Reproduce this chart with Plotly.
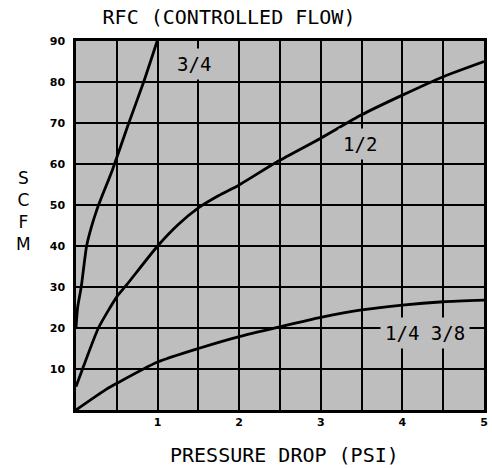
import plotly.graph_objects as go

# Data
x_34 = [0, 0.02, 0.064, 0.13, 0.19, 0.25, 0.3, 0.445, 0.647, 0.829, 0.995]
y_34 = [20, 25, 30, 40, 44.7, 48.5, 51.2, 58.5, 70, 80, 90]

x_12 = [0, 0.08, 0.275, 0.5, 0.62, 1.0, 1.25, 1.5, 1.75, 2.0, 2.47, 3.0, 3.5, 4.0, 4.5, 5.0]
y_12 = [5.7, 10, 20, 27.6, 30.5, 40, 45.2, 49.3, 52.3, 54.9, 60.6, 66.3, 72, 76.8, 81.3, 85]

x_14 = [0, 0.36, 0.5, 1.0, 1.5, 2.0, 2.5, 3.0, 3.5, 4.0, 4.5, 5.0]
y_14 = [0, 4.9, 6.5, 11.7, 15, 17.9, 20.3, 22.6, 24.4, 25.6, 26.4, 26.8]

x_tickvals = [0, 0.5, 1, 1.5, 2, 2.5, 3, 3.5, 4, 4.5, 5]
x_ticktext = ["", "", "1", "", "2", "", "3", "", "4", "", "5"]
y_tickvals = [0, 10, 20, 30, 40, 50, 60, 70, 80, 90]
y_ticktext = ["", "10", "20", "30", "40", "50", "60", "70", "80", "90"]

curve_labels = ["3/4", "1/2", "1/4 3/8"]
label_x = [1.44, 3.48, 4.28]
label_y = [84.4, 64.8, 18.9]

BG = "#bebebe"
TXT_FONT = "DejaVu Sans Mono"

W, H = 492, 468
fig = go.Figure()
for xs, ys in [(x_34, y_34), (x_12, y_12), (x_14, y_14)]:
    fig.add_trace(go.Scatter(
        x=xs, y=ys, mode="lines",
        line=dict(color="black", width=2.8, shape="spline", smoothing=0.6),
        showlegend=False, hoverinfo="skip"))

for t, lx, ly in zip(curve_labels, label_x, label_y):
    fig.add_annotation(x=lx, y=ly, xref="x", yref="y", text=t, showarrow=False,
                       font=dict(family=TXT_FONT, size=19, color="black"),
                       bgcolor=BG, borderpad=4)

fig.add_annotation(x=(286.5 - 76) / 412, y=(410 - 455) / 369, xref="paper", yref="paper",
                   text="PRESSURE DROP (PSI)", showarrow=False,
                   xanchor="center", yanchor="middle",
                   font=dict(family=TXT_FONT, size=20, color="black"))
fig.add_annotation(x=(22.5 - 76) / 412, y=(410 - 211) / 369, xref="paper", yref="paper",
                   text="S<br>C<br>F<br>M", showarrow=False,
                   xanchor="center", yanchor="middle",
                   font=dict(family="DejaVu Sans", size=17, color="black"))

fig.update_layout(
    width=W, height=H,
    margin=dict(l=76, r=4, t=41, b=58),
    paper_bgcolor="white", plot_bgcolor=BG,
    title=dict(text="RFC (CONTROLLED FLOW)", x=229 / W, y=1 - 17 / H,
               xanchor="center", yanchor="middle", xref="container", yref="container",
               pad=dict(t=0, b=0, l=0, r=0),
               font=dict(family=TXT_FONT, size=20, color="black")),
)
fig.update_xaxes(range=[0, 5], tickvals=x_tickvals, ticktext=x_ticktext,
                 showgrid=True, gridcolor="black", gridwidth=2,
                 showline=True, linecolor="black", linewidth=2.5, mirror=True,
                 zeroline=False, ticks="",
                 tickfont=dict(family="DejaVu Sans", size=11, color="black", weight="bold"))
fig.update_yaxes(range=[0, 90], tickvals=y_tickvals, ticktext=y_ticktext,
                 showgrid=True, gridcolor="black", gridwidth=2,
                 showline=True, linecolor="black", linewidth=2.5, mirror=True,
                 zeroline=False, ticks="", ticklabelstandoff=6,
                 tickfont=dict(family="DejaVu Sans", size=11, color="black", weight="bold"))

# remove the default 8px page margin so the 492x468 figure fills the window
fig.write_html("out.html", config={"displayModeBar": False},
               post_script="document.body.style.margin='0';")
